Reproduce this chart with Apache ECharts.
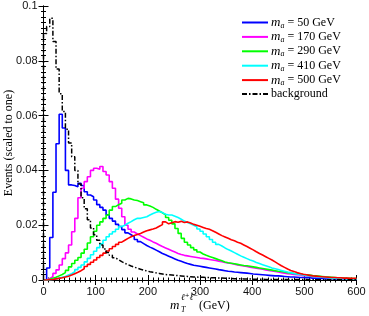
<!DOCTYPE html>
<html><head><meta charset="utf-8">
<script src="https://cdn.jsdelivr.net/npm/echarts@6/dist/echarts.min.js"></script>
<style>html,body{margin:0;padding:0;background:#fff}#c{width:369px;height:316px}</style>
</head><body><div id="c"></div><script>
// Histogram bins: 6 GeV wide, lower edges from 0 to 594 GeV
const binWidth = 6;
const xTicks = [0, 100, 200, 300, 400, 500, 600];
const yTicks = [0, 0.02, 0.04, 0.06, 0.08, 0.1];
const seriesNames = ['m_a = 50 GeV', 'm_a = 170 GeV', 'm_a = 290 GeV', 'm_a = 410 GeV', 'm_a = 500 GeV', 'background'];
const seriesColors = ['#0000ff', '#ff00ff', '#00ff00', '#00ffff', '#ff0000', '#000000'];

const ma50 = [0, 0.0044, 0.0155, 0.032, 0.0497, 0.0605, 0.0555, 0.040, 0.0347, 0.0345,
 0.034, 0.0353, 0.0345, 0.0322, 0.031, 0.0304, 0.0292, 0.0275, 0.0265, 0.0255,
 0.0238, 0.0225, 0.0215, 0.0203, 0.0195, 0.0184, 0.0172, 0.0165, 0.0158, 0.0148,
 0.014, 0.0133, 0.0126, 0.012, 0.0115, 0.0109, 0.0103, 0.0097, 0.0092, 0.0087,
 0.0082, 0.0077, 0.0072, 0.0068, 0.0064, 0.006, 0.0057, 0.0054, 0.0052, 0.005,
 0.0048, 0.0046, 0.0044, 0.0042, 0.004, 0.0038, 0.0036, 0.0034, 0.0032, 0.0031,
 0.0029, 0.0028, 0.0027, 0.0026, 0.0025, 0.0024, 0.0022, 0.0021, 0.002, 0.0019,
 0.0018, 0.0017, 0.0016, 0.0015, 0.0015, 0.0014, 0.0013, 0.0012, 0.0011, 0.0011,
 0.001, 0.0009, 0.0009, 0.0008, 0.0008, 0.0007, 0.0007, 0.0006, 0.0006, 0.0005,
 0.0005, 0.0005, 0.0004, 0.0004, 0.0004, 0.0003, 0.0003, 0.0003, 0.0003, 0.0002];

const ma170 = [0, 0.0006, 0.0012, 0.0024, 0.0037, 0.0055, 0.0078, 0.0099, 0.0128, 0.0176,
 0.0225, 0.030, 0.0335, 0.0359, 0.0377, 0.040, 0.0408, 0.0404, 0.0414, 0.0396,
 0.0383, 0.0359, 0.0335, 0.0295, 0.0262, 0.0231, 0.020, 0.0185, 0.0175, 0.0168,
 0.0162, 0.0156, 0.015, 0.0145, 0.0139, 0.0134, 0.0128, 0.0122, 0.0117, 0.0112,
 0.0107, 0.0102, 0.0097, 0.0093, 0.009, 0.0088, 0.0086, 0.0084, 0.0082, 0.008,
 0.0079, 0.0077, 0.0075, 0.0073, 0.0071, 0.0069, 0.0067, 0.0064, 0.0062, 0.006,
 0.0058, 0.0055, 0.0053, 0.0051, 0.0049, 0.0047, 0.0045, 0.0043, 0.0041, 0.0039,
 0.0037, 0.0035, 0.0033, 0.0031, 0.0029, 0.0027, 0.0025, 0.0023, 0.0022, 0.002,
 0.0019, 0.0018, 0.0016, 0.0015, 0.0014, 0.0013, 0.0012, 0.0011, 0.001, 0.0009,
 0.0009, 0.0008, 0.0007, 0.0007, 0.0006, 0.0005, 0.0005, 0.0004, 0.0004, 0.0004];

const ma290 = [0, 0.0003, 0.0006, 0.001, 0.0015, 0.002, 0.0027, 0.0035, 0.0048, 0.006,
 0.0072, 0.0082, 0.0098, 0.0112, 0.0135, 0.0158, 0.0178, 0.02, 0.0212, 0.0225,
 0.0237, 0.0255, 0.0268, 0.0275, 0.028, 0.0292, 0.0298, 0.0296, 0.0292, 0.029,
 0.0286, 0.0282, 0.0274, 0.027, 0.0265, 0.0258, 0.0252, 0.0245, 0.0238, 0.0228,
 0.0218, 0.0205, 0.0188, 0.017, 0.0152, 0.0138, 0.0128, 0.0118, 0.011, 0.0102,
 0.0095, 0.009, 0.0086, 0.0082, 0.0078, 0.0074, 0.007, 0.0066, 0.0063, 0.0061,
 0.0059, 0.0057, 0.0055, 0.0053, 0.0052, 0.005, 0.0048, 0.0046, 0.0044, 0.0042,
 0.004, 0.0038, 0.0036, 0.0034, 0.0032, 0.0031, 0.0029, 0.0027, 0.0026, 0.0024,
 0.0023, 0.0022, 0.002, 0.0019, 0.0018, 0.0016, 0.0015, 0.0014, 0.0013, 0.0012,
 0.0011, 0.001, 0.0009, 0.0008, 0.0007, 0.0007, 0.0006, 0.0006, 0.0005, 0.0005];

const ma410 = [0, 0, 0.0002, 0.0004, 0.0007, 0.001, 0.0013, 0.0018, 0.0023, 0.003,
 0.0038, 0.0046, 0.0055, 0.0066, 0.0079, 0.0092, 0.0105, 0.0118, 0.0132, 0.0145,
 0.0158, 0.0168, 0.0176, 0.0185, 0.0195, 0.02, 0.0207, 0.0213, 0.022, 0.0225,
 0.0225, 0.0228, 0.0231, 0.0237, 0.0243, 0.0247, 0.025, 0.0246, 0.024, 0.0237,
 0.0237, 0.0233, 0.0228, 0.0222, 0.0215, 0.021, 0.0205, 0.02, 0.0194, 0.0186,
 0.0178, 0.0168, 0.0158, 0.0148, 0.0138, 0.013, 0.0124, 0.0117, 0.0111, 0.0106,
 0.01, 0.0094, 0.0088, 0.0083, 0.0078, 0.0073, 0.0069, 0.0064, 0.006, 0.0056,
 0.0052, 0.0048, 0.0044, 0.0041, 0.0038, 0.0035, 0.0032, 0.0029, 0.0027, 0.0024,
 0.0022, 0.002, 0.0018, 0.0016, 0.0015, 0.0013, 0.0012, 0.0011, 0.001, 0.0009,
 0.0008, 0.0007, 0.0007, 0.0006, 0.0005, 0.0005, 0.0004, 0.0004, 0.0003, 0.0003];

const ma500 = [0, 0.0001, 0.0002, 0.0004, 0.0006, 0.0008, 0.0011, 0.0014, 0.0018, 0.0023,
 0.0028, 0.0034, 0.0041, 0.0049, 0.0057, 0.0065, 0.0073, 0.0082, 0.009, 0.0098,
 0.0106, 0.0114, 0.0122, 0.013, 0.0138, 0.0145, 0.0152, 0.0158, 0.0162, 0.0166,
 0.017, 0.0175, 0.018, 0.0183, 0.0186, 0.019, 0.0196, 0.0202, 0.0212, 0.0205,
 0.0209, 0.0213, 0.0211, 0.0214, 0.021, 0.0212, 0.0208, 0.0203, 0.02, 0.0196,
 0.0192, 0.0188, 0.0185, 0.018, 0.0174, 0.0168, 0.0162, 0.0157, 0.0152, 0.0147,
 0.0143, 0.0138, 0.0134, 0.0128, 0.0122, 0.0116, 0.011, 0.0103, 0.0097, 0.0091,
 0.0085, 0.0079, 0.0073, 0.0066, 0.0059, 0.0052, 0.0046, 0.004, 0.0035, 0.0031,
 0.0027, 0.0024, 0.0021, 0.0019, 0.0017, 0.0015, 0.0014, 0.0013, 0.0012, 0.0011,
 0.001, 0.0009, 0.0009, 0.0008, 0.0008, 0.0007, 0.0007, 0.0006, 0.0006, 0.0006];

const background = [0.09, 0.0925, 0.0955, 0.087, 0.077, 0.068, 0.0615, 0.055, 0.05, 0.045,
 0.04, 0.035, 0.03, 0.026, 0.022, 0.019, 0.0165, 0.0145, 0.0128, 0.0113,
 0.01, 0.009, 0.0081, 0.0074, 0.0067, 0.0061, 0.0056, 0.0051, 0.0047, 0.0043,
 0.0039, 0.0036, 0.0033, 0.003, 0.0028, 0.0026, 0.0024, 0.0022, 0.002, 0.0019,
 0.0018, 0.0017, 0.0016, 0.0015, 0.0014, 0.0013, 0.0012, 0.0011, 0.0011, 0.001,
 0.001, 0.0009, 0.0009, 0.0008, 0.0008, 0.0007, 0.0007, 0.0006, 0.0006, 0.0006,
 0.0005, 0.0005, 0.0005, 0.0004, 0.0004, 0.0004, 0.0003, 0.0003, 0.0003, 0.0003,
 0.0002, 0.0002, 0.0002, 0.0002, 0.0002, 0.0002, 0.0002, 0.0002, 0.0002, 0.0002,
 0.0002, 0.0002, 0.0002, 0.0002, 0.0001, 0.0001, 0.0001, 0.0001, 0.0001, 0.0001,
 0.0001, 0.0001, 0.0001, 0.0001, 0.0001, 0.0001, 0.0001, 0.0001, 0.0001, 0.0001];

const allValues = [ma50, ma170, ma290, ma410, ma500, background];

function histData(vals) {
  const d = [[0, 0]];
  vals.forEach((v, i) => d.push([i * binWidth, v]));
  d.push([vals.length * binWidth, vals[vals.length - 1]]);
  return d;
}

const chart = echarts.init(document.getElementById('c'), null, {renderer: 'canvas'});
const axisCommon = {
  type: 'value',
  axisLine: {show: true, lineStyle: {color: '#000', width: 1}},
  axisTick: {show: true, inside: true, length: 5, lineStyle: {color: '#000'}},
  minorTick: {show: true, splitNumber: 10, length: 2.5, lineStyle: {color: '#000'}},
  splitLine: {show: false},
  minorSplitLine: {show: false}
};
const tickFont = {color: '#111', fontFamily: 'Liberation Sans', fontSize: 11};

const option = {
  animation: false,
  backgroundColor: '#fff',
  grid: {left: 43.5, right: 12.5, top: 6, bottom: 36, containLabel: false, outerBoundsMode: 'none'},
  xAxis: [
    Object.assign({}, axisCommon, {min: xTicks[0], max: xTicks[xTicks.length - 1], interval: xTicks[1] - xTicks[0], position: 'bottom',
      axisLabel: Object.assign({margin: 6}, tickFont)}),
    Object.assign({}, axisCommon, {min: xTicks[0], max: xTicks[xTicks.length - 1], interval: xTicks[1] - xTicks[0], position: 'top',
      axisLabel: {show: false}})
  ],
  yAxis: [
    Object.assign({}, axisCommon, {min: yTicks[0], max: yTicks[yTicks.length - 1], interval: yTicks[1] - yTicks[0], position: 'left',
      axisLabel: Object.assign({margin: 6}, tickFont),
      name: 'Events (scaled to one)', nameLocation: 'middle', nameRotate: 90, nameGap: 29, nameMoveOverlap: false,
      nameTextStyle: {fontFamily: 'Liberation Serif', fontSize: 12, color: '#000'}}),
    Object.assign({}, axisCommon, {min: yTicks[0], max: yTicks[yTicks.length - 1], interval: yTicks[1] - yTicks[0], position: 'right',
      axisLabel: {show: false}})
  ],
  legend: {
    orient: 'vertical', left: 241, top: 16, padding: 0, itemWidth: 26, itemHeight: 12, itemGap: 0.9, align: 'left',
    data: seriesNames,
    itemStyle: {opacity: 0},
    formatter: function (name) {
      if (name.indexOf('m_a') === 0) {
        return '{i|m}{s|a}{t|' + name.slice(3) + '}';
      }
      return '{t|' + name + '}';
    },
    textStyle: {
      color: '#000', fontFamily: 'Liberation Serif', fontSize: 12, padding: [0, 0, 0, -2],
      rich: {
        i: {fontStyle: 'italic', fontFamily: 'Liberation Serif', fontSize: 13, lineHeight: 14, color: '#000'},
        s: {fontStyle: 'italic', fontFamily: 'Liberation Serif', fontSize: 8, lineHeight: 9, verticalAlign: 'bottom', color: '#000'},
        t: {fontFamily: 'Liberation Serif', fontSize: 12, lineHeight: 14, color: '#000'}
      }
    }
  },
  graphic: [
    {type: 'text', x: 170, y: 306, style: {text: 'm', font: 'italic 13px "Liberation Serif"', fill: '#000', verticalAlign: 'middle', align: 'left'}},
    {type: 'text', x: 181, y: 310, style: {text: 'T', font: 'italic 8px "Liberation Serif"', fill: '#000', verticalAlign: 'middle', align: 'left'}},
    {type: 'text', x: 181, y: 298, style: {text: 'ℓ⁺ℓ⁻', font: 'italic 9px "DejaVu Serif"', fill: '#000', verticalAlign: 'middle', align: 'left'}},
    {type: 'text', x: 199, y: 306, style: {text: '(GeV)', font: '12px "Liberation Serif"', fill: '#000', verticalAlign: 'middle', align: 'left'}}
  ],
  series: allValues.map((vals, k) => ({
    type: 'line',
    name: seriesNames[k],
    xAxisIndex: 0, yAxisIndex: 0,
    data: histData(vals),
    step: 'end',
    symbol: 'none',
    showSymbol: false,
    clip: true,
    itemStyle: {color: seriesColors[k]},
    lineStyle: k === 5
      ? {color: seriesColors[k], width: 1.5, type: [5, 2, 1.5, 2]}
      : {color: seriesColors[k], width: 1.6},
    z: 2 + k
  }))
};
chart.setOption(option);
</script></body></html>
